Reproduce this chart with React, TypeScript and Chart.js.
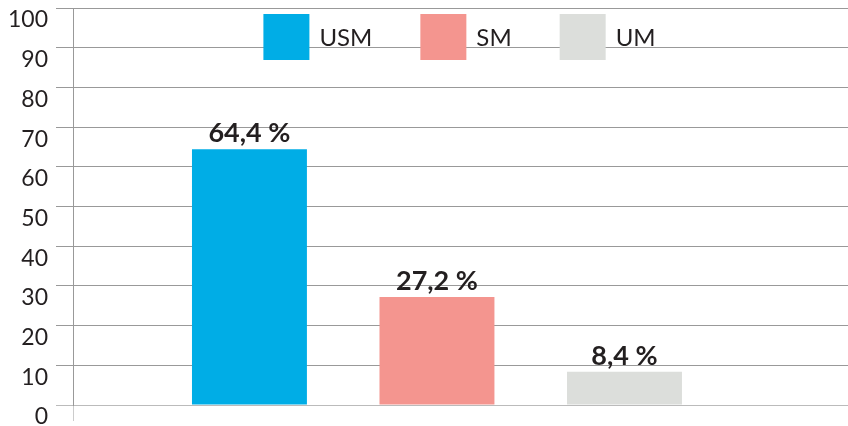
import React, { useEffect, useRef } from 'react';
import { Chart, registerables } from 'chart.js';

Chart.register(...registerables);

const categories = ['USM', 'SM', 'UM'];
const values = [64.4, 27.2, 8.4];
const colors = ['#00ade6', '#f4958f', '#dcdedb'];
const yMin = 0;
const yMax = 100;
const yStep = 10;

const FONT = 'Lato, "Open Sans", "DejaVu Sans", sans-serif';
const TEXT = '#231f20';

const formatValue = (v: number) => v.toFixed(1).replace('.', ',') + ' %';

const legendPlugin = {
  id: 'topLegend',
  afterDraw(chart: any) {
    const ctx = chart.ctx;
    const area = chart.chartArea;
    const box = 46;
    const textGap = 10;
    const itemGap = 48;
    ctx.save();
    ctx.font = `24px ${FONT}`;
    const widths = categories.map((c) => box + textGap + ctx.measureText(c).width);
    const total = widths.reduce((a, b) => a + b, 0) + itemGap * (categories.length - 1);
    let x = (area.left + area.right) / 2 - 1 - total / 2;
    const top = area.top + 6;
    categories.forEach((c, i) => {
      ctx.fillStyle = colors[i];
      ctx.fillRect(x, top, box, box);
      ctx.fillStyle = TEXT;
      ctx.textAlign = 'left';
      ctx.textBaseline = 'middle';
      ctx.fillText(c, x + box + textGap, top + box / 2 + 1);
      x += widths[i] + itemGap;
    });
    ctx.restore();
  },
};

const labelPlugin = {
  id: 'barLabels',
  afterDatasetsDraw(chart: any) {
    const ctx = chart.ctx;
    const meta = chart.getDatasetMeta(0);
    ctx.save();
    ctx.font = `bold 27px ${FONT}`;
    ctx.fillStyle = TEXT;
    ctx.textAlign = 'center';
    ctx.textBaseline = 'alphabetic';
    meta.data.forEach((el: any, i: number) => {
      ctx.fillText(formatValue(values[i]), el.x, el.y - 7);
    });
    ctx.restore();
  },
};

export default function App() {
  const ref = useRef<HTMLCanvasElement>(null);

  useEffect(() => {
    if (!ref.current) return;
    const chart = new Chart(ref.current, {
      type: 'bar',
      data: {
        datasets: [
          {
            label: 'Share',
            data: values.map((v, i) => ({ x: i, y: v })),
            backgroundColor: colors,
            borderWidth: 0,
            categoryPercentage: 1,
            barPercentage: 0.613,
          },
        ],
      },
      options: {
        animation: false,
        responsive: true,
        maintainAspectRatio: false,
        layout: { padding: { top: 8, right: 0, bottom: 5, left: 0 } },
        plugins: {
          legend: { display: false },
          tooltip: { enabled: false },
        },
        scales: {
          x: {
            type: 'linear',
            min: -0.941,
            max: 3.192,
            offset: false,
            ticks: { display: false },
            afterBuildTicks: (scale: any) => {
              scale.ticks = [{ value: scale.min }];
            },
            grid: {
              display: true,
              offset: false,
              drawOnChartArea: false,
              drawTicks: true,
              tickLength: 16,
              color: '#cccccc',
              lineWidth: 1,
            },
            border: { display: false },
          },
          y: {
            min: yMin,
            max: yMax,
            ticks: {
              stepSize: yStep,
              color: TEXT,
              font: { family: FONT, size: 23 },
              padding: 8,
              labelOffset: 12,
            },
            grid: {
              color: (c: any) => (c.tick && c.tick.value === 0 ? '#bbbbbb' : '#999999'),
              lineWidth: 1,
              tickLength: 17,
            },
            border: { display: true, color: '#999999', width: 1 },
            afterFit: (scale: any) => {
              scale.width = 73;
              scale.paddingTop = 0;
              scale.paddingBottom = 0;
            },
          },
        },
      },
      plugins: [labelPlugin, legendPlugin],
    } as any);
    return () => chart.destroy();
  }, []);

  return (
    <div style={{ position: 'fixed', left: 0, top: 0, width: 848, height: 426, background: '#fff' }}>
      <canvas ref={ref} />
    </div>
  );
}
